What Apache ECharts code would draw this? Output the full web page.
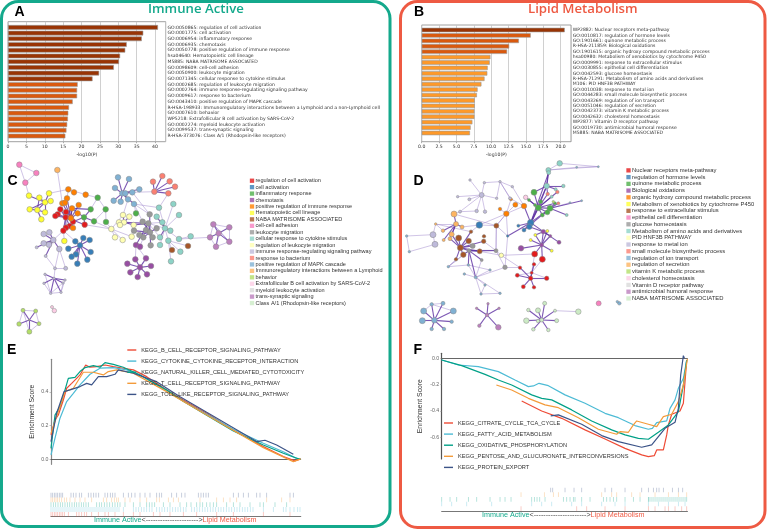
<!DOCTYPE html>
<html>
<head>
<meta charset="utf-8">
<style>
  html, body { margin: 0; padding: 0; background: #fff; }
  #chart { width: 767px; height: 530px; }
</style>
<script src="https://cdn.jsdelivr.net/npm/echarts@6/dist/echarts.min.js"></script>
</head>
<body>
<div id="chart"></div>
<script>
// panel A
const barLabelsA = ['GO:0050865: regulation of cell activation', 'GO:0001775: cell activation', 'GO:0006954: inflammatory response', 'GO:0006935: chemotaxis', 'GO:0050778: positive regulation of immune response', 'hsa04640: Hematopoietic cell lineage', 'M5885: NABA MATRISOME ASSOCIATED', 'GO:0098609: cell-cell adhesion', 'GO:0050900: leukocyte migration', 'GO:0071345: cellular response to cytokine stimulus', 'GO:0002685: regulation of leukocyte migration', 'GO:0002764: immune response-regulating signaling pathway', 'GO:0009617: response to bacterium', 'GO:0043410: positive regulation of MAPK cascade', 'R-HSA-198933: Immunoregulatory interactions between a Lymphoid and a non-Lymphoid cell', 'GO:0007610: behavior', 'WP5218: Extrafollicular B cell activation by SARS-CoV-2', 'GO:0002274: myeloid leukocyte activation', 'GO:0099537: trans-synaptic signaling', 'R-HSA-373076: Class A/1 (Rhodopsin-like receptors)'];
const barValuesA = [40.8, 36.8, 36.4, 32.3, 31.9, 30.5, 30.2, 28.8, 24.8, 23, 18.95, 18.8, 18.8, 17.6, 16.6, 16.4, 16.3, 16.1, 15.9, 15.6];

// panel B
const barLabelsB = ['WP2882: Nuclear receptors meta-pathway', 'GO:0010817: regulation of hormone levels', 'GO:1901661: quinone metabolic process', 'R-HSA-211859: Biological oxidations', 'GO:1901615: organic hydroxy compound metabolic process', 'hsa00980: Metabolism of xenobiotics by cytochrome P450', 'GO:0009991: response to extracellular stimulus', 'GO:0030855: epithelial cell differentiation', 'GO:0042593: glucose homeostasis', 'R-HSA-71291: Metabolism of amino acids and derivatives', 'M106: PID HNF3B PATHWAY', 'GO:0010038: response to metal ion', 'GO:0044283: small molecule biosynthetic process', 'GO:0043269: regulation of ion transport', 'GO:0051046: regulation of secretion', 'GO:0042373: vitamin K metabolic process', 'GO:0042632: cholesterol homeostasis', 'WP2877: Vitamin D receptor pathway', 'GO:0019730: antimicrobial humoral response', 'M5885: NABA MATRISOME ASSOCIATED'];
const barValuesB = [20.6, 15.7, 14, 12.6, 12.3, 9.9, 9.8, 9.5, 9.45, 9.05, 8.6, 8.05, 7.95, 7.65, 7.65, 7.6, 7.6, 7.3, 7.05, 6.95];

// network panels, category order is the legend order
const netColors = ['#e41a1c', '#377eb8', '#4daf4a', '#984ea3', '#ff7f00', '#ffff33', '#a65628', '#f781bf', '#999999', '#8dd3c7', '#ffffb3', '#bebada', '#fb8072', '#80b1d3', '#fdb462', '#b3de69', '#fccde5', '#d9d9d9', '#bc80bd', '#ccebc5'];
const catNamesC = ['regulation of cell activation', 'cell activation', 'inflammatory response', 'chemotaxis', 'positive regulation of immune response', 'Hematopoietic cell lineage', 'NABA MATRISOME ASSOCIATED', 'cell-cell adhesion', 'leukocyte migration', 'cellular response to cytokine stimulus', 'regulation of leukocyte migration', 'immune response-regulating signaling pathway', 'response to bacterium', 'positive regulation of MAPK cascade', 'Immunoregulatory interactions between a Lymphoid', 'behavior', 'Extrafollicular B cell activation by SARS-CoV-2', 'myeloid leukocyte activation', 'trans-synaptic signaling', 'Class A/1 (Rhodopsin-like receptors)'];
const catNamesD = ['Nuclear receptors meta-pathway', 'regulation of hormone levels', 'quinone metabolic process', 'Biological oxidations', 'organic hydroxy compound metabolic process', 'Metabolism of xenobiotics by cytochrome P450', 'response to extracellular stimulus', 'epithelial cell differentiation', 'glucose homeostasis', 'Metabolism of amino acids and derivatives', 'PID HNF3B PATHWAY', 'response to metal ion', 'small molecule biosynthetic process', 'regulation of ion transport', 'regulation of secretion', 'vitamin K metabolic process', 'cholesterol homeostasis', 'Vitamin D receptor pathway', 'antimicrobial humoral response', 'NABA MATRISOME ASSOCIATED'];

// [x, y, size] per category, layout units
const nodesC = [
  [[181,148],[198,156],[173,163],[166,168],[197,172],[212,172],[219,185],[209,198],[198,203],[190,212],[254,194]],
  [[250,234],[226,244],[269,240],[240,256],[205,266],[272,276],[228,283],[215,290],[262,299],[232,311]],
  [[293,113],[272,148],[317,148],[252,172],[282,184],[318,186],[408,160]],
  [[408,255],[420,260],[406,298],[438,295],[382,311],[453,318],[420,322],[391,337],[441,343],[413,351]],
  [[205,88],[222,97],[257,104],[201,115],[187,130],[195,128],[236,135],[216,145],[233,160],[219,204],[213,175]],
  [[87,107],[118,113],[147,100],[135,127],[152,123],[89,148],[112,150],[135,157],[124,178],[193,243]],
  [[516,270],[564,258]],
  [[58,14],[109,39],[76,68]],
  [[449,163],[428,185],[445,190],[470,205],[402,212],[438,210],[450,217],[430,232],[458,232],[418,225],[452,256]],
  [[520,132],[477,143],[537,165],[470,170],[487,187],[495,205],[511,212],[480,232],[537,237],[572,229],[480,255],[505,242],[541,275],[513,304]],
  [[369,165],[357,187],[372,187],[388,170],[401,195],[334,207],[345,232],[368,240],[395,230],[360,195]],
  [[131,222],[148,217],[160,240],[147,254],[131,250],[178,267],[110,262,3],[137,288,3],[165,325,3],[197,325,4],[135,343,2.5],[162,355,2.5],[195,360,2.5],[132,370,2.5],[152,400,2.5],[183,397,2.5],[189,369,2.5]],
  [[487,48],[459,65],[509,64],[525,80],[463,95],[505,100]],
  [[354,52],[387,57],[345,84],[367,100],[397,97],[418,88],[341,122],[362,125],[384,118],[402,132],[376,100]],
  [[172,30]],
  [[69,451,4],[107,453,4],[117,491,4],[57,492,4.5],[88,515,5],[88,480,1.5]],
  [[156,441,3],[163,452,4.5]],
  [],
  [[640,193],[688,202],[656,220],[630,232],[688,245],[648,260]],
  []
];
// first id is the hub, the rest connect to it; id is category.index
const strongC = ['5.3 5.0 5.1 5.2 5.4 5.5 5.6 5.7', '5.6 5.5 5.7 5.8 5.1', '0.4 0.0 0.1 0.2 0.3 0.5 0.6 0.7 0.8 0.9 0.10', '4.10 4.3 4.4 4.5 4.6 4.7 4.8 4.9', '4.7 0.4 0.5 2.3 2.1', '2.3 2.1 2.4 0.6 0.10', '1.3 1.0 1.1 1.2 1.4 1.5 1.6 1.7 1.8 1.9', '11.2 11.0 11.1 11.3 11.4 11.5 11.6 11.7', '13.3 13.0 13.1 13.2 13.4 13.6 13.7 13.8 13.9 13.10 13.5', '12.4 12.0 12.1 12.2 12.3 12.5', '8.6 8.0 8.1 8.2 8.3 8.4 8.5 8.7 8.8 8.9 8.10', '8.2 10.4 10.2 3.0', '3.6 3.2 3.3 3.4 3.5 3.7 3.8 3.9', '3.0 3.1', '9.5 9.3 9.4 9.6 9.7', '18.2 18.0 18.1 18.3 18.4 18.5', '15.5 15.0 15.1 15.2 15.3 15.4', '11.11 11.10 11.12 11.13 11.14 11.15 11.16', '10.2 10.0 10.1 10.3 10.4 10.9'];
const weakC = ['7.1 7.0 7.2', '7.0 7.2', '7.2 5.0', '14.0 4.4', '5.2 4.0', '4.0 4.1 4.2 4.3', '2.0 2.1 2.2 4.2', '2.2 2.5 2.4', '0.9 11.2 1.1 5.9', '11.5 11.8', '11.8 11.9 11.11 11.7', '11.9 11.5', '13.8 10.0', '12.5 9.1', '8.2 3.1 9.4 9.5 9.7', '10.5 2.5 2.4 0.10 10.0 10.6 10.7 10.8', '9.5 9.0 9.1 9.2 9.8 9.10 9.11', '9.8 9.9 18.3', '9.11 6.0 6.1 9.12 9.13', '18.0 18.1 18.3 18.4', '15.0 15.1 15.3 15.4', '15.2 15.1 15.4', '16.0 16.1', '3.0 3.2 3.3', '13.4 12.4 8.0', '13.9 8.1 8.0 2.6 9.1', '11.14 11.10 11.13 11.15 11.16', '11.15 11.12 11.16', '18.4 18.5 18.1 18.0', '18.3 18.5'];

const nodesD = [
  [[449,282,6],[472,298,6],[447,313,3.5],[405,323,3.5],[397,346,4],[437,355,4.5],[485,355,4.5],[415,380,4],[447,382,3.5],[440,338,3]],
  [[283,195,6.5],[437,188,6.5],[433,200,5.5],[417,210,4],[400,197,3],[368,228,2.5]],
  [[447,97,6],[432,120,3],[467,125,4],[460,143,6],[495,145,6],[487,157,5],[472,165,4],[450,135,3],[510,130,3]],
  [[408,265,5.5],[522,247,4],[475,215,4.5],[496,228,3],[470,255,4]],
  [[391,134,5],[417,138,5.5],[364,161,5.5],[345,147,3.5],[378,118,3]],
  [[451,225,3],[487,213,3],[500,272,3],[437,240,3]],
  [[334,197,5],[221,234,6],[251,243,5.5],[296,244,4.5],[226,263,6],[235,284,5.5],[284,274,5],[258,215,3.5],[297,229,3.5],[213,298,3.5]],
  [[641,430,5]],
  [[263,258,5],[252,272,4],[333,272,4],[360,322,4.5],[290,300,3]],
  [[524,10,5.5],[490,30,5],[491,38,4],[485,78,5.5],[535,78,3.5],[500,110,3],[545,165,3],[512,88,3]],
  [[349,286,4.5]],
  [[144,224,6],[150,253,6],[290,105,5],[275,153,3.5],[300,155,3.5],[225,155,3],[218,110,2.5],[255,60,2.5],[298,68,2.5],[345,65,2.5],[382,80,2.5],[253,118,3],[335,115,2.5],[375,115,3]],
  [[488,102,3.5],[517,96,3.5],[520,130,3]],
  [[116,453,6],[205,453,6],[112,482,6],[148,481,5.5],[200,485,3.5],[140,433,3.5],[174,430,4],[140,507,3.5],[177,507,3.5],[703,430,3.5],[65,228,2.5],[73,275,2.5],[250,315,2.5],[238,342,2.5],[272,352,3],[300,375,2.5],[288,402,2.5],[345,400,2.5],[315,330,2.5],[190,320,2.5],[640,20,2],[575,22,2],[590,122,2],[555,128,2],[697,425,2.5]],
  [[207,162,6],[213,192,5],[231,201,4],[174,212,3.5],[200,223,5],[195,236,4],[176,240,3],[152,192,2.5]],
  [[505,125,2.5]],
  [[422,112,4.5]],
  [],
  [[340,502,5.5],[283,497,3.5],[306,465,3.5],[275,445,2.5],[342,445,2.5],[309,431,2.5]],
  [[580,455,5.5],[424,482,5.5],[459,451,5],[479,430,4],[515,482,4],[430,450,3.5],[510,452,3],[445,508,3.5],[490,510,3.5],[470,480,4],[459,483,3.5]]
];
const strongD = ['2.3 2.0 2.1 2.2 2.4 2.5 2.6 2.7 2.8 1.1 1.2 9.5 12.0 12.1 16.0', '2.4 2.5 2.6 2.8 12.2 13.22 9.6 1.1 1.3', '1.1 1.2 1.3 1.4 1.5 4.1 3.2 9.3 9.2', '9.3 9.1 9.2 9.4 9.7 12.0 2.0 2.2', '3.4 3.0 3.2 3.3 5.0 5.1 5.2 5.3 0.0 0.1', '3.2 3.3 5.0 1.2 3.1', '0.5 0.2 0.3 0.4 0.6 0.7 0.8 0.9', '6.4 6.1 6.2 6.3 6.5 6.6 6.9 6.7 8.0 8.1 14.4 14.5', '8.1 6.6 8.2 8.4 6.5 13.12 13.14', '14.1 14.0 14.2 14.3 14.4 14.5 14.6', '13.3 13.0 13.1 13.2 13.4 13.5 13.6 13.7 13.8', '18.2 18.0 18.1 18.3 18.4 18.5', '19.9 19.1 19.2 19.3 19.4 19.5 19.6 19.7 19.8 19.10'];
const weakD = ['4.2 4.0 4.1 4.3 4.4 6.0 1.0', '0.9 0.0 0.1 0.2 0.4 0.6', '14.7 14.1 14.3 6.7', '11.2 11.3 11.4 11.5 11.6 11.7 11.8 11.11 11.12', '11.9 11.8 11.10 11.12 11.13 4.4', '13.14 13.12 13.13 13.15 13.16 13.17 13.18 8.4 8.3', '11.0 11.1 13.10 14.7', '13.10 13.11', '13.11 11.1', '13.5 13.6 13.0 13.1', '19.6 19.0', '9.1 9.0 9.2 13.21 13.20', '2.4 13.23', '13.20 9.0 13.21', '13.9 13.24', '6.0 1.0 14.0 4.2 8.2', '8.2 10.0 8.3', '10.0 0.0 0.3 6.6', '1.0 6.7 14.2', '8.3 1.5 0.3', '1.5 4.2 6.0', '13.19 6.9 6.5 8.1', '13.16 13.15 13.17', '13.12 13.19 13.18', '4.1 11.10 11.13', '11.5 14.0 11.3', '8.2 6.6 6.3 6.0'];

// panel E, rank position and enrichment score
const namesE = ['KEGG_B_CELL_RECEPTOR_SIGNALING_PATHWAY', 'KEGG_CYTOKINE_CYTOKINE_RECEPTOR_INTERACTION', 'KEGG_NATURAL_KILLER_CELL_MEDIATED_CYTOTOXICITY', 'KEGG_T_CELL_RECEPTOR_SIGNALING_PATHWAY', 'KEGG_TOLL_LIKE_RECEPTOR_SIGNALING_PATHWAY'];
const colorsFive = ['#ee4b36', '#4dbbd5', '#00a087', '#f39b3a', '#3c5488'];
const curveBCell = [[0,.145],[12,.234],[22,.263],[37,.352],[47,.422],[62,.451],[77,.481],[87,.501],[104,.56],[117,.547],[137,.55],[162,.56],[187,.55],[217,.541],[247,.531],[287,.491],[347,.412],[397,.352],[467,.273],[547,.174],[637,.075],[697,.016],[732,-.01],[749,.002]];
const curveCytokine = [[0,.026],[12,.125],[27,.244],[47,.343],[67,.392],[87,.442],[117,.505],[147,.541],[187,.545],[227,.531],[267,.501],[347,.405],[397,.345],[467,.268],[547,.178],[637,.095],[697,.045],[732,.01],[749,0]];
const curveNK = [[0,.065],[12,.263],[27,.313],[42,.412],[52,.481],[72,.487],[87,.521],[102,.545],[127,.556],[147,.547],[162,.574],[187,.564],[217,.547],[267,.501],[347,.412],[397,.345],[467,.262],[547,.168],[637,.085],[697,.036],[737,.006],[749,0]];
const curveTCell = [[0,.154],[17,.253],[42,.402],[67,.422],[97,.517],[127,.517],[157,.501],[172,.521],[197,.531],[247,.511],[347,.402],[467,.263],[637,.069],[727,-.014],[749,.002]];
const curveToll = [[0,.105],[17,.273],[39,.402],[57,.412],[87,.432],[107,.451],[122,.442],[142,.491],[167,.491],[192,.505],[202,.531],[247,.511],[317,.461],[387,.372],[467,.279],[567,.164],[617,.105],[642,.113],[677,.085],[727,.03]];
const ticksE = [0, 0.2, 0.4];
const rugTollE = [0,5,10,15,20,25,30,35,60,67,75,85,92,112,120,128,135,143,162,170,178,185,192,217,232,242,252,267,282,297,317,325,332,362,377,392,402,442,450,457,465,472,547,562,577,592,617,627,647,717,727];
const rugTCellE = [0,5,10,15,20,25,32,40,47,57,72,87,102,122,157,167,182,190,197,202,222,237,267,287,317,325,352,367,382,447,497,517,537,557,647,692,717];
const rugNKE = [0,7,14,21,28,35,42,49,56,63,70,77,84,91,98,105,112,137,145,152,160,168,176,184,192,200,207,222,247,267,287,295,303,311,337,357,387,407,420,437,447,455,467,477,487,497,527,547,567,597,627,637,672,707];
const rugCytokineE = [0,6,12,18,24,30,36,42,48,54,60,66,72,78,84,90,96,102,108,114,120,126,132,138,144,150,156,162,168,174,180,186,192,198,204,217,247,255,263,271,279,287,295,303,317,325,333,341,349,357,365,373,381,389,397,405,422,430,438,446,454,462,470,478,486,494,502,510,518,526,534,542,550,558,566,574,582,590,598,606,637,667,697,705,717,729,740,747];
const rugBCellE = [0,5,10,15,20,25,30,35,40,52,77,84,92,100,107,122,142,162,172,192,217,247,267,307,327,357,397,437,497,547,637,717];

// panel F
const namesF = ['KEGG_CITRATE_CYCLE_TCA_CYCLE', 'KEGG_FATTY_ACID_METABOLISM', 'KEGG_OXIDATIVE_PHOSPHORYLATION', 'KEGG_PENTOSE_AND_GLUCURONATE_INTERCONVERSIONS', 'KEGG_PROTEIN_EXPORT'];
const curveCitrate = [[240,-.324],[300,-.4],[360,-.456],[430,-.544],[490,-.613],[550,-.684],[600,-.734],[620,-.747],[638,-.739],[645,-.696],[665,-.696],[675,-.582],[680,-.506],[690,-.425],[715,-.4],[725,-.342],[735,-.013]];
const curveFatty = [[0,-.013],[50,-.051],[110,-.063],[170,-.101],[220,-.165],[260,-.215],[275,-.21],[292,-.19],[320,-.208],[370,-.278],[430,-.342],[490,-.418],[530,-.451],[580,-.511],[620,-.539],[632,-.532],[645,-.489],[675,-.476],[685,-.38],[700,-.316],[710,-.228],[725,-.152],[735,-.013]];
const curveOxphos = [[0,-.013],[60,-.056],[130,-.122],[170,-.165],[210,-.203],[270,-.278],[300,-.304],[330,-.316],[390,-.392],[450,-.476],[510,-.544],[550,-.582],[590,-.608],[620,-.615],[650,-.562],[680,-.506],[710,-.405],[725,-.203],[735,-.013]];
const curvePentose = [[164,-.203],[210,-.241],[260,-.304],[310,-.354],[350,-.375],[410,-.451],[470,-.539],[525,-.577],[535,-.557],[560,-.562],[575,-.506],[585,-.476],[620,-.501],[645,-.519],[665,-.443],[690,-.425],[710,-.329],[725,-.203],[737,-.005]];
const curveProtein = [[327,-.438],[350,-.43],[420,-.501],[480,-.587],[530,-.633],[600,-.676],[630,-.658],[650,-.595],[670,-.532],[700,-.486],[710,-.38],[717,-.127],[725,.02],[728,0]];
const ticksF = [0, -0.2, -0.4, -0.6];
const rugProteinF = [327,333,370,397,420,490,510,550,600,620,635,645,652,665,692,710,723];
const rugPentoseF = [238,308,335,350,480,510,525,570,595,640,680,710,735];
const rugOxphosF = [0,25,45,80,105,145,175,190,208,270,278,286,294,310,365,375,385,395,400,420,445,485,495,505,515,525,550,575,595,620,622,628,634,640,646,652,658,664,670,676,682,688,694,700,706,712,718,724,730,735];
const rugFattyF = [0,30,75,150,270,300,330,390,420,480,520,550,620,650,680,710,730];
const rugCitrateF = [238,405,435,490,550,620,640,670,680,700,720,735];

const LATIN = '"Liberation Sans", Arial, sans-serif';
const MPL = '"DejaVu Sans", sans-serif';

const grids = [];
const xAxes = [];
const yAxes = [];
const series = [];

const addGrid = (box, xAxis, yAxis) => {
  grids.push(Object.assign({ containLabel: false }, box));
  const i = grids.length - 1;
  xAxes.push(Object.assign({ gridIndex: i }, xAxis));
  yAxes.push(Object.assign({ gridIndex: i }, yAxis));
  return i;
};

const barColor = v => (v >= 20 ? '#993404' : v >= 10 ? '#d9590e' : '#fe9929');

// outer grid carries frame and x axis, inner one the bars and their labels
const barPanel = (outer, inner, xMax, step, labels, values, labelFmt) => {
  addGrid(Object.assign({ show: true, borderColor: '#888', borderWidth: 0.8, backgroundColor: '#fff' }, outer), {
    type: 'value', min: 0, max: xMax, interval: step, name: '-log10(P)', nameLocation: 'middle', nameGap: 11,
    nameTextStyle: { fontSize: 4.6, fontFamily: MPL, color: '#333' },
    axisLine: { show: false },
    axisTick: { length: 1.5, lineStyle: { color: '#666', width: 0.5 } },
    axisLabel: { fontSize: 4.6, fontFamily: MPL, color: '#333', margin: 3, showMaxLabel: false, formatter: labelFmt },
    splitLine: { show: true, lineStyle: { color: '#c4c4c4', width: 0.8 } },
  }, { type: 'value', min: 0, max: 1, show: false });
  const i = addGrid(inner, { type: 'value', min: 0, max: xMax, show: false }, {
    type: 'category', data: labels, inverse: true, position: 'right',
    axisLine: { show: false }, axisTick: { show: false }, splitLine: { show: false },
    axisLabel: { interval: 0, align: 'left', margin: 1.8, fontSize: 4.55, fontFamily: MPL, color: '#333' },
  });
  series.push({
    type: 'bar', xAxisIndex: i, yAxisIndex: i, barWidth: '82%', silent: true,
    data: values.map(v => ({ value: v, itemStyle: { color: barColor(v), borderColor: '#999', borderWidth: 0.6 } })),
  });
};

barPanel({ left: 8, top: 21.7, width: 157.7, height: 120 }, { left: 8, top: 24.5, width: 157.7, height: 114.4 }, 42.9, 5, barLabelsA, barValuesA, v => String(v));
barPanel({ left: 421.7, top: 25, width: 149.3, height: 116.7 }, { left: 421.7, top: 27.3, width: 149.3, height: 108.4 }, 21.5, 2.5, barLabelsB, barValuesB, v => v.toFixed(1));

const networkPanel = (box, nodes, strong, weak) => {
  const i = addGrid(box, { type: 'value', min: 0, max: box.width * 3, show: false }, { type: 'value', min: 0, max: box.height * 3, inverse: true, show: false });
  const index = {};
  const data = [];
  nodes.forEach((list, cat) => list.forEach((n, k) => {
    index[cat + '.' + k] = data.length;
    data.push({
      value: [n[0], n[1]], symbolSize: n[2] || 5.6,
      itemStyle: { color: netColors[cat], borderColor: '#8a8a8a', borderWidth: 0.5 },
    });
  }));
  const links = [];
  const addStars = (stars, lineStyle) => stars.forEach(s => {
    const ids = s.split(' ');
    ids.slice(1).forEach(id => links.push({ source: index[ids[0]], target: index[id], lineStyle }));
  });
  addStars(weak, { color: '#9f86cc', width: 0.7, opacity: 0.7 });
  addStars(strong, { color: '#5b2da0', width: 1.1, opacity: 0.8 });
  series.push({
    type: 'graph', layout: 'none', coordinateSystem: 'cartesian2d', xAxisIndex: i, yAxisIndex: i,
    silent: true, roam: false, label: { show: false }, data, links, z: 3,
  });
};

networkPanel({ left: 0, top: 160, width: 385, height: 180 }, nodesC, strongC, weakC);
networkPanel({ left: 385, top: 160, width: 382, height: 180 }, nodesD, strongD, weakD);

// colour key of a network: square marks on a narrow grid, names as axis labels
const keyPanel = (box, names, fontSize) => {
  const i = addGrid(box, { type: 'value', min: 0, max: 1, show: false }, {
    type: 'category', data: names, inverse: true, position: 'right',
    axisLine: { show: false }, axisTick: { show: false },
    axisLabel: { interval: 0, align: 'left', margin: 1.5, fontSize, fontFamily: LATIN, color: '#333' },
  });
  series.push({
    type: 'scatter', xAxisIndex: i, yAxisIndex: i, symbol: 'rect', symbolSize: 4.3, silent: true,
    data: names.map((n, k) => ({ value: [0.5, n], itemStyle: { color: netColors[k] } })),
  });
};

keyPanel({ left: 250, top: 177.5, width: 4, height: 128.8 }, catNamesC, 5.55);
keyPanel({ left: 626.5, top: 167, width: 4, height: 134.8 }, catNamesD, 5.85);

const curvePanel = (box, names, curves, yMin, yMax, ticks, axisColor, nameGap) => {
  const i = addGrid(box, {
    type: 'value', min: 0, max: box.width * 3, axisLabel: { show: false }, axisTick: { show: false }, splitLine: { show: false },
    axisLine: { show: true, onZero: true, lineStyle: { color: '#555', width: 0.9 } },
  }, {
    type: 'value', min: yMin, max: yMax, splitLine: { show: false },
    name: 'Enrichment Score', nameLocation: 'middle', nameGap,
    nameTextStyle: { fontSize: 6.8, fontFamily: LATIN, color: '#333' },
    axisLine: { show: true, onZero: false, lineStyle: { color: axisColor, width: 1.2 } },
    axisTick: { show: true, length: 1.5, customValues: ticks, lineStyle: { color: '#888', width: 0.5 } },
    axisLabel: { fontSize: 5.2, fontFamily: LATIN, color: '#666', margin: 2.5, customValues: ticks, formatter: v => v.toFixed(1) },
  });
  names.forEach((name, k) => series.push({
    type: 'line', name, data: curves[k], xAxisIndex: i, yAxisIndex: i, symbol: 'none', silent: true,
    lineStyle: { color: colorsFive[k], width: 1.2 }, itemStyle: { color: colorsFive[k] },
  }));
};

curvePanel({ left: 51, top: 359.3, width: 249.7, height: 105 }, namesE, [curveBCell, curveCytokine, curveNK, curveTCell, curveToll], -0.03, 0.594, ticksE, '#888', 15);
curvePanel({ left: 441.7, top: 353.3, width: 245.7, height: 105.7 }, namesF, [curveCitrate, curveFatty, curveOxphos, curvePentose, curveProtein], -0.765, 0.038, ticksF, '#555', 18);

// gene hit marks, one row per curve, top row is the last curve
const rugPanel = (box, rows) => {
  const rowNames = rows.map((r, k) => 'r' + k);
  const i = addGrid(box, {
    type: 'value', min: 0, max: box.width * 3, axisLabel: { show: false }, axisTick: { show: false }, splitLine: { show: false },
    axisLine: { show: true, lineStyle: { color: '#777', width: 1.2 } },
  }, { type: 'category', data: rowNames, inverse: true, show: false });
  rows.forEach((row, k) => series.push({
    type: 'scatter', xAxisIndex: i, yAxisIndex: i, symbol: 'rect', symbolSize: [0.8, box.height / 5], silent: true,
    itemStyle: { color: colorsFive[4 - k], opacity: 0.35 },
    data: row.map(x => [x, rowNames[k]]),
  }));
};

rugPanel({ left: 51, top: 492.7, width: 249.7, height: 24 }, [rugTollE, rugTCellE, rugNKE, rugCytokineE, rugBCellE]);
rugPanel({ left: 441.7, top: 487.7, width: 245.7, height: 23.3 }, [rugProteinF, rugPentoseF, rugOxphosF, rugFattyF, rugCitrateF]);

const panelLetter = (text, left, top) => ({ text, left, top, textStyle: { fontSize: 14, fontWeight: 'bold', color: '#000', fontFamily: LATIN } });
const directionStyle = color => ({ fontSize: 7.2, fontWeight: 'normal', color, fontFamily: LATIN });
const directionLabel = (left, top) => ({
  text: '{a|Immune Active}{b|<---------------------->}{c|Lipid Metabolism}', left, top,
  textStyle: { rich: { a: directionStyle('#14a98c'), b: directionStyle('#444'), c: directionStyle('#ee5a43') } },
});

const titles = [
  { text: 'Immune Active', left: 148, top: 3, textStyle: { fontSize: 13.2, fontWeight: 600, color: '#14a98c', fontFamily: '"Open Sans", sans-serif' } },
  { text: 'Lipid Metabolism', left: 528, top: 3, textStyle: { fontSize: 13.2, fontWeight: 600, color: '#ee5a43', fontFamily: '"Open Sans", sans-serif' } },
  panelLetter('A', 14.5, 5), panelLetter('B', 414, 5), panelLetter('C', 7.5, 174), panelLetter('D', 413.5, 174), panelLetter('E', 7, 343), panelLetter('F', 413.5, 343),
  directionLabel(94, 517), directionLabel(482, 511.5),
].map(t => Object.assign({ padding: 0 }, t));

const legendFor = (names, left, top) => ({
  data: names, left, top, orient: 'vertical', icon: 'rect', itemWidth: 9, itemHeight: 1.4, itemGap: 5.1, padding: 0,
  textStyle: { fontSize: 5.7, fontFamily: LATIN, color: '#333' }, selectedMode: false,
});

const option = {
  animation: false,
  backgroundColor: '#fff',
  title: titles,
  grid: grids,
  xAxis: xAxes,
  yAxis: yAxes,
  legend: [legendFor(namesE, 127.3, 347), legendFor(namesF, 444, 420)],
  series,
  graphic: [
    { type: 'rect', shape: { x: 1.5, y: 1.5, width: 388.5, height: 525, r: 17 }, style: { fill: 'none', stroke: '#14a98c', lineWidth: 3 }, z: -1, silent: true },
    { type: 'rect', shape: { x: 400.5, y: 1.5, width: 364.5, height: 526, r: 17 }, style: { fill: 'none', stroke: '#ee5a43', lineWidth: 3 }, z: -1, silent: true },
  ],
};

echarts.init(document.getElementById('chart')).setOption(option);
</script>
</body>
</html>
